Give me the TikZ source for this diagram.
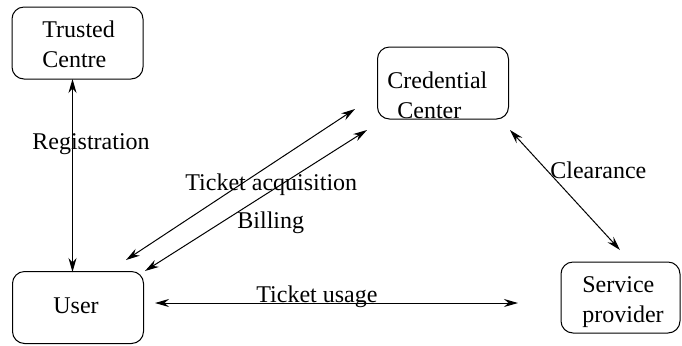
\documentclass[tikz,border=0pt]{standalone}
\usepackage{fontspec}
\setmainfont{Liberation Serif}
\usetikzlibrary{
    arrows.meta,
    positioning
}

\begin{document}
\begin{tikzpicture}[
    x=0.5pt, y=-0.5pt,
    font=\fontsize{12}{15}\selectfont,
    party/.style={rectangle, draw, line width=0.5pt, rounded corners=6pt, minimum width=65.5pt, minimum height=36pt, inner sep=0pt},
    caption/.style={anchor=base west, inner sep=0pt, align=left},
    link/.style={line width=0.5pt, {Stealth[length=7pt, width=4pt]}-{Stealth[length=7pt, width=4pt]}}
]
\useasboundingbox (0,0) rectangle (682,345);

% Parties
\node[party] (trusted) at (77.5,43) {};
\node[party] (credential) at (443,83) {};
\node[party] (user) at (78,307.5) {};
\node[party, minimum width=59.5pt, minimum height=35.5pt] (provider) at (620.5,297.5) {};

% Party names (base = last line)
\node[caption] (trustedname) at (42,67) {Trusted\\Centre};
\node[caption] (credentialname) at (387,118) {Credential\\\hspace{5pt}Center};
\node[caption] (username) at (53,313) {User};
\node[caption] (providername) at (582,322) {Service\\provider};

% End points of the links
\coordinate (regtop) at (72.5,79);
\coordinate (regbot) at (72.5,272);
\coordinate (acqa) at (126,260);
\coordinate (acqb) at (355,109);
\coordinate (bila) at (145,271);
\coordinate (bilb) at (367,130);
\coordinate (cleara) at (510,130);
\coordinate (clearb) at (620,250);
\coordinate (usea) at (155,303);
\coordinate (useb) at (518,303);

% Links
\draw[link] (regtop) -- (regbot);
\draw[link] (acqa) -- (acqb);
\draw[link] (bila) -- (bilb);
\draw[link] (cleara) -- (clearb);
\draw[link] (usea) -- (useb);

% Link labels
\node[caption] (registration) at (32,149) {Registration};
\node[caption] (acquisition) at (185,190) {Ticket acquisition};
\node[caption] (billing) at (237,228) {Billing};
\node[caption] (clearance) at (550,178) {Clearance};
\node[caption] (usage) at (256,302) {Ticket usage};
\end{tikzpicture}
\end{document}
